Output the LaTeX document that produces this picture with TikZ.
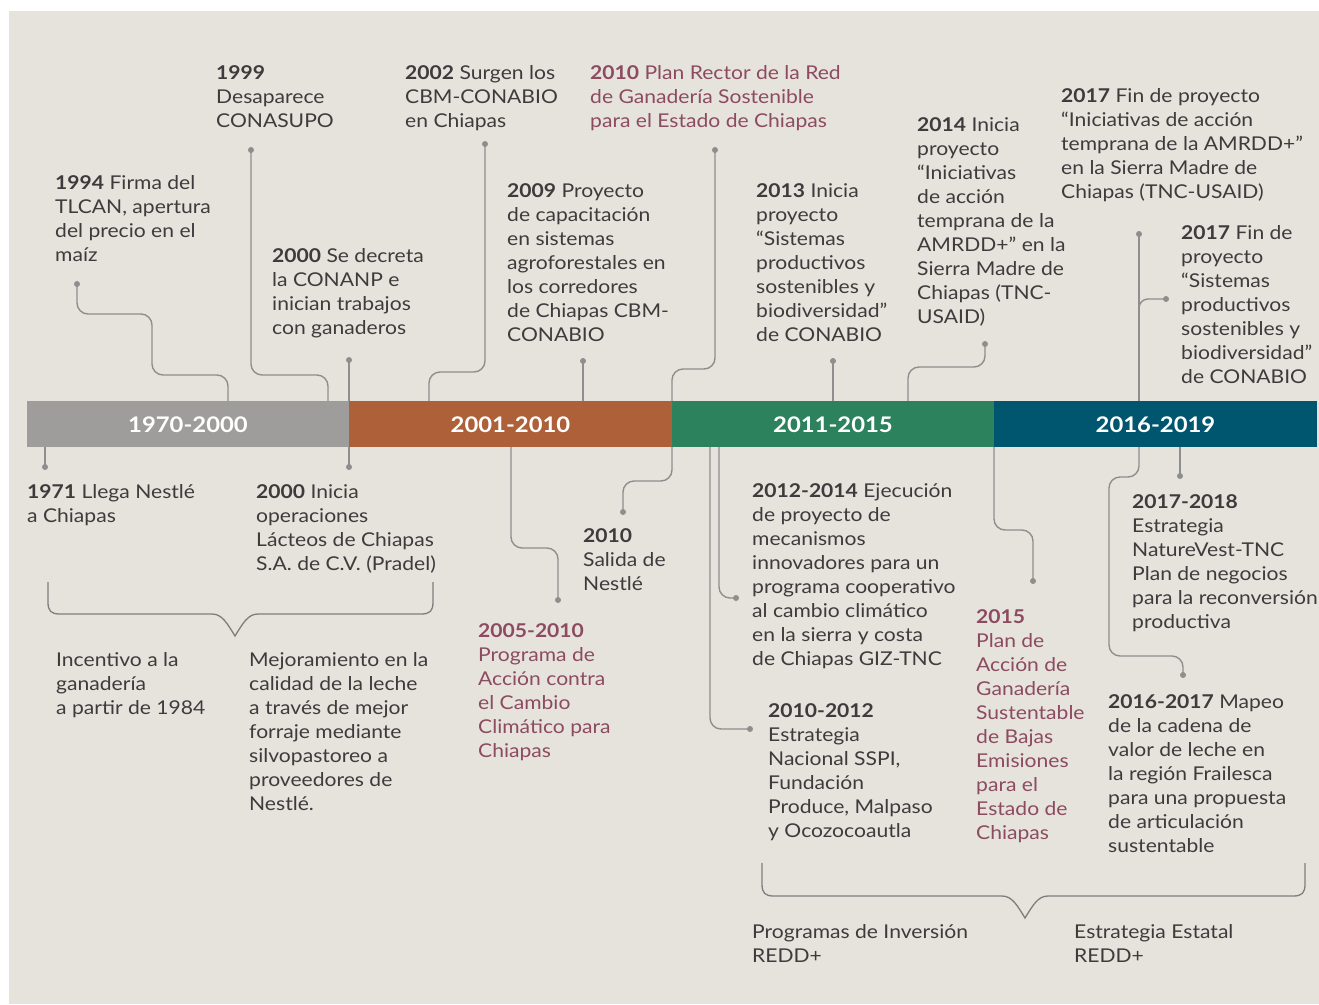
\documentclass[tikz,border=0pt]{standalone}
\usepackage{fontspec}
\setmainfont{Lato}[FakeStretch=1.11]
\definecolor{bgbeige}{HTML}{E6E3DD}
\definecolor{ink}{HTML}{3D3B3C}
\definecolor{rose}{HTML}{8C4B60}
\definecolor{segA}{HTML}{9E9D9B}
\definecolor{segB}{HTML}{AE6039}
\definecolor{segC}{HTML}{2C825D}
\definecolor{segD}{HTML}{00566E}
\definecolor{lineg}{HTML}{8E8E8E}
\definecolor{braceg}{HTML}{7E7E7E}
\newcommand{\blk}[1]{\begin{tabular}[t]{@{}l@{}}#1\end{tabular}}
\pgfdeclarelayer{back}
\pgfdeclarelayer{bg}
\pgfsetlayers{back,bg,main}
\begin{document}
\begin{tikzpicture}[x=1pt,y=-1pt,
  txt/.style={anchor=base west, inner sep=0pt, font=\fontsize{19}{24}\selectfont, text=ink},
  ptxt/.style={txt, text=rose},
  seg/.style={minimum height=46pt, inner sep=0pt, text=white, font=\fontsize{21.5}{26}\selectfont\bfseries, text height=16pt, text depth=0pt},
  dot/.style={circle, fill=lineg, inner sep=0pt, minimum size=6pt},
  conn/.style={draw=lineg, line width=1.4pt, rounded corners=11pt},
  brace/.style={draw=braceg, line width=1.3pt}]
\useasboundingbox (0,0) rectangle (1319,1004);
\begin{pgfonlayer}{back}
\fill[white] (0,0) rectangle (1319,1004);
\fill[bgbeige] (9,11) rectangle (1319,1004);
\end{pgfonlayer}

% timeline bar
\node[seg, fill=segA, minimum width=322.5pt] (s1) at (188,424) {1970-2000};
\node[seg, fill=segB, minimum width=323.5pt] (s2) at (510.5,424) {2001-2010};
\node[seg, fill=segC, minimum width=322.5pt] (s3) at (833,424) {2011-2015};
\node[seg, fill=segD, minimum width=323pt] (s4) at (1155.5,424) {2016-2019};

% dots
\node[dot] (d1994) at (77,284) {};
\node[dot] (d1999) at (251,150) {};
\node[dot] (d2000a) at (349,360) {};
\node[dot] (d2002) at (485,144) {};
\node[dot] (d2009) at (583,361) {};
\node[dot] (d2010a) at (715,150) {};
\node[dot] (d2013) at (833,361) {};
\node[dot] (d2014) at (985,344) {};
\node[dot] (d2017a) at (1139,234) {};
\node[dot] (d2017b) at (1166,299) {};
\node[dot] (d1971) at (45,467) {};
\node[dot] (d2000b) at (349,467) {};
\node[dot] (d2005) at (558,600) {};
\node[dot] (d2010b) at (623,512) {};
\node[dot] (d2010c) at (750,729) {};
\node[dot] (d2012) at (736,598) {};
\node[dot] (d2015) at (1033,581) {};
\node[dot] (d2017c) at (1180,476) {};
\node[dot] (d2016) at (1183,675) {};
\coordinate (b2017) at (1139,318);

% connectors
\begin{pgfonlayer}{bg}
\draw[conn] (d1994.center) -- (77,314) -- (152,314) -- (152,375) -- (228,375) -- (228,0 |- s1.north);
\draw[conn] (d1999.center) -- (251,375) -- (328,375) -- (328,0 |- s1.north);
\draw[conn] (d2000a.center) -- (349,0 |- s1.north);
\draw[conn] (d2002.center) -- (485,372) -- (429,372) -- (429,0 |- s2.north);
\draw[conn] (d2009.center) -- (583,0 |- s2.north);
\draw[conn] (d2010a.center) -- (715,369) -- (672,369) -- (672,0 |- s2.north);
\draw[conn] (d2013.center) -- (833,0 |- s3.north);
\draw[conn] (d2014.center) -- (985,367) -- (908,367) -- (908,0 |- s3.north);
\draw[conn] (d2017a.center) -- (1139,0 |- s4.north);
\draw[conn, rounded corners=9pt] (b2017) -- (1139,299) -- (d2017b.center);
\draw[conn] (45,0 |- s1.south) -- (d1971.center);
\draw[conn] (349,0 |- s1.south) -- (d2000b.center);
\draw[conn] (511,0 |- s2.south) -- (511,548) -- (558,548) -- (d2005.center);
\draw[conn] (672,0 |- s2.south) -- (672,481) -- (623,481) -- (d2010b.center);
\draw[conn] (710,0 |- s3.south) -- (710,729) -- (d2010c.center);
\draw[conn] (719,0 |- s3.south) -- (719,598) -- (d2012.center);
\draw[conn] (994,0 |- s3.south) -- (994,530) -- (1033,530) -- (d2015.center);
\draw[conn] (1180,0 |- s4.south) -- (d2017c.center);
\draw[conn] (1139,0 |- s4.south) -- (1139,477) -- (1109,477) -- (1109,656) -- (1183,656) -- (d2016.center);
\end{pgfonlayer}

% braces
\draw[brace] (48,582) -- (48,602) .. controls (48,611) and (51,614) .. (60,614) -- (212,614)
  .. controls (222,614) and (227,623) .. (235,636) .. controls (243,623) and (248,614) .. (258,614)
  -- (421,614) .. controls (430,614) and (433,611) .. (433,602) -- (433,582);
\draw[brace] (762,863) -- (762,884) .. controls (762,893) and (765,896) .. (774,896) -- (1002,896)
  .. controls (1012,896) and (1017,905) .. (1025,918) .. controls (1033,905) and (1038,896) .. (1048,896)
  -- (1293,896) .. controls (1302,896) and (1305,893) .. (1305,884) -- (1305,863);

% texts above
\node[txt] (t1999) at (216,79) {\blk{\textbf{1999}\\Desaparece\\CONASUPO}};
\node[txt] (t1994) at (55,189) {\blk{\textbf{1994} Firma del\\TLCAN, apertura\\del precio en el\\maíz}};
\node[txt] (t2002) at (405,79) {\blk{\textbf{2002} Surgen los\\CBM-CONABIO\\en Chiapas}};
\node[txt] (t2000a) at (272,262) {\blk{\textbf{2000} Se decreta\\la CONANP e\\inician trabajos\\con ganaderos}};
\node[ptxt] (t2010a) at (590,79) {\blk{\textbf{2010} Plan Rector de la Red\\de Ganadería Sostenible\\para el Estado de Chiapas}};
\node[txt] (t2009) at (507,197) {\blk{\textbf{2009} Proyecto\\de capacitación\\en sistemas\\agroforestales en\\los corredores\\de Chiapas CBM-\\CONABIO}};
\node[txt] (t2013) at (756,197) {\blk{\textbf{2013} Inicia\\proyecto\\“Sistemas\\productivos\\sostenibles y\\biodiversidad”\\de CONABIO}};
\node[txt] (t2014) at (917,131) {\blk{\textbf{2014} Inicia\\proyecto\\“Iniciativas\\de acción\\temprana de la\\AMRDD+” en la\\Sierra Madre de\\Chiapas (TNC-\\USAID)}};
\node[txt] (t2017a) at (1061,102) {\blk{\textbf{2017} Fin de proyecto\\“Iniciativas de acción\\temprana de la AMRDD+”\\en la Sierra Madre de\\Chiapas (TNC-USAID)}};
\node[txt] (t2017b) at (1181,239) {\blk{\textbf{2017} Fin de\\proyecto\\“Sistemas\\productivos\\sostenibles y\\biodiversidad”\\de CONABIO}};

% texts below
\node[txt] (t1971) at (27,498) {\blk{\textbf{1971} Llega Nestlé\\a Chiapas}};
\node[txt] (t2000b) at (256,498) {\blk{\textbf{2000} Inicia\\operaciones\\Lácteos de Chiapas\\S.A. de C.V. (Pradel)}};
\node[txt] (t2010b) at (583,542) {\blk{\textbf{2010}\\Salida de\\Nestlé}};
\node[ptxt] (t2005) at (478,637) {\blk{\textbf{2005-2010}\\Programa de\\Acción contra\\el Cambio\\Climático para\\Chiapas}};
\node[txt] (t2012) at (752,497) {\blk{\textbf{2012-2014} Ejecución\\de proyecto de\\mecanismos\\innovadores para un\\programa cooperativo\\al cambio climático\\en la sierra y costa\\de Chiapas GIZ-TNC}};
\node[txt] (t2010c) at (768,717) {\blk{\textbf{2010-2012}\\Estrategia\\Nacional SSPI,\\Fundación\\Produce, Malpaso\\y Ocozocoautla}};
\node[ptxt] (t2015) at (976,623) {\blk{\textbf{2015}\\Plan de\\Acción de\\Ganadería\\Sustentable\\de Bajas\\Emisiones\\para el\\Estado de\\Chiapas}};
\node[txt] (t2017c) at (1132,508) {\blk{\textbf{2017-2018}\\Estrategia\\NatureVest-TNC\\Plan de negocios\\para la reconversión\\productiva}};
\node[txt] (t2016) at (1108,708) {\blk{\textbf{2016-2017} Mapeo\\de la cadena de\\valor de leche en\\la región Frailesca\\para una propuesta\\de articulación\\sustentable}};
\node[txt] (tinc) at (56,666) {\blk{Incentivo a la\\ganadería\\a partir de 1984}};
\node[txt] (tmej) at (249,666) {\blk{Mejoramiento en la\\calidad de la leche\\a través de mejor\\forraje mediante\\silvopastoreo a\\proveedores de\\Nestlé.}};
\node[txt] (tprog) at (752,938) {\blk{Programas de Inversión\\REDD+}};
\node[txt] (test) at (1074,938) {\blk{Estrategia Estatal\\REDD+}};
\end{tikzpicture}
\end{document}
